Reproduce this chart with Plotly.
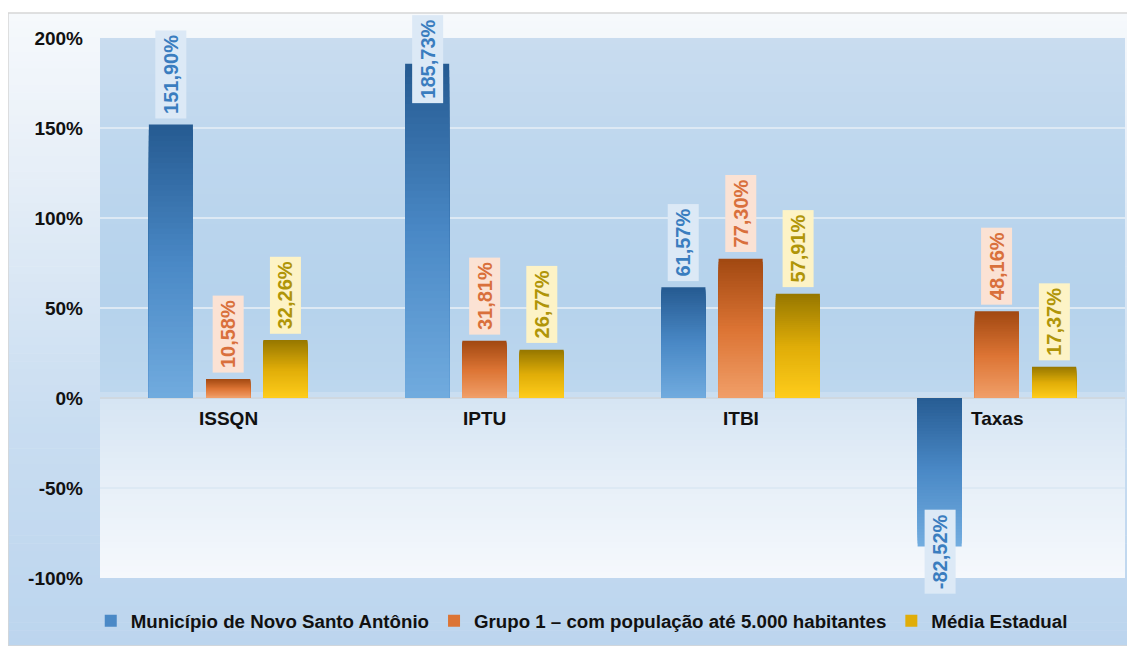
import plotly.graph_objects as go

# ---------------- data ----------------
categories = ["ISSQN", "IPTU", "ITBI", "Taxas"]
series_names = [
    "Município de Novo Santo Antônio",
    "Grupo 1 – com população até 5.000 habitantes",
    "Média Estadual",
]
municipio = [151.90, 185.73, 61.57, -82.52]
grupo1 = [10.58, 31.81, 77.30, 48.16]
media_estadual = [32.26, 26.77, 57.91, 17.37]
y_ticks = [-100, -50, 0, 50, 100, 150, 200]
y_tick_labels = ["-100%", "-50%", "0%", "50%", "100%", "150%", "200%"]

series_values = [municipio, grupo1, media_estadual]
# gradient colours of each series (light end at bottom, dark end at top)
grad_light = ["#72acdf", "#f1a06a", "#ffcd1c"]
grad_mid = ["#4a89c6", "#dc7434", "#e0ad08"]
grad_dark = ["#265b92", "#a24912", "#977800"]
label_colors = ["#3a7dbf", "#d9703c", "#b09508"]
label_bgs = ["#dce9f6", "#fbe2d4", "#fdf3c6"]

# ---------------- geometry (pixels of the 1135x646 window) ----------------
OFF = 8                      # page body margin
W, H = 1135 - OFF, 646 - OFF
PL, PR, PT, PB = 100, 1125, 38, 578  # plot area edges (window pixels)
YMIN, YMAX = -100, 200
PX_PER_UNIT = (PB - PT) / (YMAX - YMIN)


def px_x(p):
    return (p - PL) / (PR - PL)


def px_y(p):
    return (PB - p) / (PB - PT)


def hex2rgb(h):
    h = h.lstrip("#")
    return [int(h[i:i + 2], 16) for i in (0, 2, 4)]


def interp(stops, p):
    for (p0, c0), (p1, c1) in zip(stops, stops[1:]):
        if p0 <= p <= p1:
            t = (p - p0) / (p1 - p0) if p1 > p0 else 0
            a, b = hex2rgb(c0), hex2rgb(c1)
            r = [round(a[k] + (b[k] - a[k]) * t) for k in range(3)]
            return "rgb(%d,%d,%d)" % tuple(r)
    return stops[-1][1]


shapes = []
# outer frame gradient
outer_stops = [(13, "#f6f9fc"), (120, "#ecf2f9"), (250, "#dde9f5"), (420, "#c9ddf1"),
               (646, "#bcd5ee")]
N = 80
top, bot = 13, 646
for i in range(N):
    y0 = top + (bot - top) * i / N
    y1 = top + (bot - top) * (i + 1) / N + 0.6
    shapes.append(dict(type="rect", xref="paper", yref="paper", layer="below",
                       x0=px_x(8), x1=px_x(1134), y0=px_y(min(y1, bot)), y1=px_y(y0),
                       fillcolor=interp(outer_stops, (y0 + y1) / 2), line_width=0))
# plot area gradient
plot_stops = [(38, "#c9dcef"), (150, "#bed7ee"), (300, "#b5d2ec"), (390, "#bdd7ee"),
              (400, "#d6e5f3"), (480, "#e6eff8"), (578, "#f5f8fc")]
N2 = 90
for i in range(N2):
    y0 = PT + (PB - PT) * i / N2
    y1 = PT + (PB - PT) * (i + 1) / N2 + 0.6
    shapes.append(dict(type="rect", xref="paper", yref="paper", layer="below",
                       x0=0, x1=1, y0=px_y(min(y1, PB)), y1=px_y(y0),
                       fillcolor=interp(plot_stops, (y0 + y1) / 2), line_width=0))
# frame border
shapes.append(dict(type="rect", xref="paper", yref="paper", layer="below",
                   x0=px_x(8), x1=px_x(1134), y0=px_y(646), y1=px_y(13),
                   fillcolor="rgba(0,0,0,0)", line=dict(color="#d6d6d6", width=1.5)))

# ---------------- bars (overlaid layers give a vertical gradient) ----------------
bargap = 0.33
bargroupgap = 0.23
slot = (1 - bargap) / 3
bar_w = slot * (1 - bargroupgap)
K = 50

fig = go.Figure()
for j, (name, vals) in enumerate(zip(series_names, series_values)):
    stops = [(0.0, grad_light[j]), (0.5, grad_mid[j]), (1.0, grad_dark[j])]
    for k in range(K):
        f = (K - k) / K  # fraction of the bar length covered by this layer
        ys = [v * f for v in vals]
        cols = [interp(stops, f if v >= 0 else 1 - f) for v in vals]
        fig.add_trace(go.Bar(
            x=categories, y=ys, name=name,
            width=bar_w, offset=(j - 1) * slot - bar_w / 2,
            marker=dict(color=cols, line=dict(width=0)),
            legendgroup=name, showlegend=(k == K // 2),
            hoverinfo="skip",
        ))

FONT = "Liberation Sans, Arial"
annotations = []
LABEL_LEN = 92   # approximate rotated label box length in pixels
for j, vals in enumerate(series_values):
    for i, v in enumerate(vals):
        txt = "<b>%s</b>" % ("%.2f%%" % v).replace(".", ",")
        xpos = i + (j - 1) * slot
        common = dict(x=xpos, xref="x", text=txt, textangle=-90,
                      showarrow=False, bgcolor=label_bgs[j], borderpad=4,
                      font=dict(family=FONT, size=20, color=label_colors[j]))
        if v >= 0:
            top_px = PB - (v - YMIN) * PX_PER_UNIT - 6 - LABEL_LEN
            if top_px < 15:
                annotations.append(dict(common, y=px_y(15), yref="paper", yanchor="top"))
            else:
                annotations.append(dict(common, y=v, yref="y", yanchor="bottom", yshift=6))
        else:
            annotations.append(dict(common, y=v, yref="y", yanchor="middle", yshift=-5))
# category labels just below the zero line
for i, c in enumerate(categories):
    annotations.append(dict(x=i, y=0, xref="x", yref="y", text="<b>%s</b>" % c,
                            showarrow=False, yanchor="top", yshift=-8,
                            font=dict(family=FONT, size=19, color="#111111")))

fig.update_layout(
    width=W, height=H, autosize=False,
    margin=dict(l=PL - OFF, r=1135 - PR, t=PT - OFF, b=646 - PB, autoexpand=False),
    paper_bgcolor="white",
    plot_bgcolor="rgba(0,0,0,0)",
    barmode="overlay",
    shapes=shapes, annotations=annotations,
    font=dict(family=FONT, color="#111111"),
    showlegend=True,
    legend=dict(orientation="h", x=0.47, xanchor="center", y=px_y(621), yanchor="middle",
                font=dict(family=FONT, size=18.7, color="#111111", weight="bold"),
                bgcolor="rgba(0,0,0,0)", itemwidth=30, tracegroupgap=0),
    xaxis=dict(showticklabels=False, showgrid=False, zeroline=False, showline=False,
               range=[-0.5, 3.5], fixedrange=True),
    yaxis=dict(range=[YMIN, YMAX], tickvals=y_ticks, ticktext=y_tick_labels,
               tickfont=dict(family=FONT, size=19, color="#111111", weight="bold"),
               showgrid=True, gridcolor="#dde9f4", gridwidth=2,
               zeroline=True, zerolinecolor="#cfd8e0", zerolinewidth=2,
               showline=False, ticks="", ticklabelstandoff=16, fixedrange=True),
)

fig.write_html("out.html")
